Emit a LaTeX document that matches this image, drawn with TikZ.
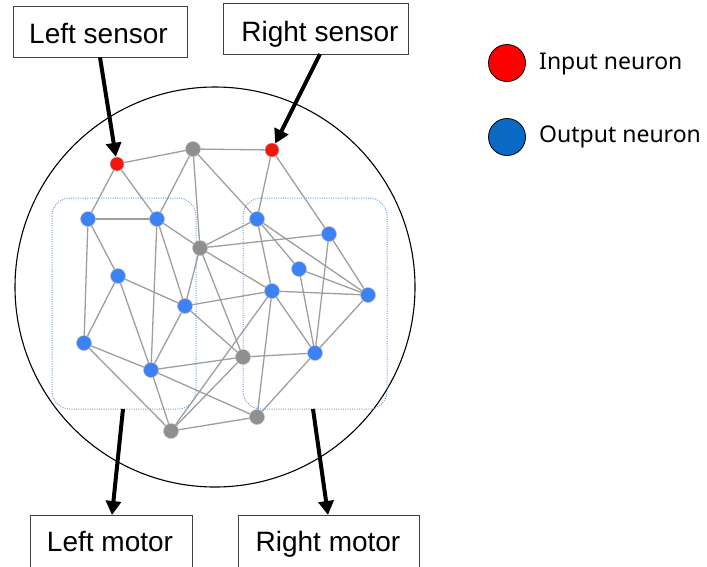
\documentclass[tikz,border=0pt]{standalone}
\usepackage{fontspec}
\setmainfont{Liberation Sans}
\newfontfamily\legendfont{Noto Sans}
\usetikzlibrary{arrows.meta,backgrounds,calc}
\definecolor{nblue}{HTML}{3D82F5}
\definecolor{ngray}{HTML}{8F8F8F}
\definecolor{nred}{HTML}{F2170C}
\definecolor{edgec}{HTML}{9E9E9E}
\definecolor{dotc}{HTML}{6F9BD6}
\definecolor{lblue}{HTML}{0A6AC6}
\definecolor{lred}{HTML}{FF0000}
\begin{document}
\begin{tikzpicture}[x=1pt,y=-1pt,
  neuron/.style={circle,inner sep=0pt,minimum size=15pt,draw=black!25,line width=0.5pt},
  inn/.style={neuron,fill=nred,minimum size=14pt},
  outn/.style={neuron,fill=nblue},
  hidn/.style={neuron,fill=ngray},
  edge/.style={draw=edgec,line width=1.3pt},
  frame/.style={draw=black!75,line width=0.9pt,inner sep=0pt},
  lbl/.style={font=\fontsize{28}{30}\selectfont,inner sep=0pt,text height=20pt,text depth=0pt},
  bigarrow/.style={line width=4pt,-{Triangle[width=15pt,length=14pt]}},
  region/.style={draw=dotc,dash pattern=on 1pt off 1.3pt,line width=1pt,rounded corners=18pt},
  leg/.style={circle,draw=black,line width=0.8pt,minimum size=37pt,inner sep=0pt},
  legtxt/.style={font=\legendfont\fontsize{23}{26}\selectfont,inner sep=0pt,anchor=base west}]

\useasboundingbox (0,0) rectangle (707,566);

% big circle
\draw[line width=1.1pt] (215,287) circle[radius=200pt];

% dotted regions
\draw[region] (52,198) rectangle (196,409);
\draw[region] (243,198) rectangle (387,409);

% neurons
\node[inn]  (L)   at (117,164) {};
\node[inn]  (R)   at (272,150) {};
\node[hidn] (G1)  at (193,149) {};
\node[hidn] (G2)  at (200,248) {};
\node[hidn] (G3)  at (243,357) {};
\node[hidn] (G4)  at (171,431) {};
\node[hidn] (G5)  at (257,417) {};
\node[outn] (B1)  at (88,219) {};
\node[outn] (B2)  at (157,219) {};
\node[outn] (B3)  at (118,276) {};
\node[outn] (B4)  at (185,306) {};
\node[outn] (B5)  at (84,343) {};
\node[outn] (B6)  at (151,370) {};
\node[outn] (B7)  at (257,219) {};
\node[outn] (B8)  at (329,234) {};
\node[outn] (B9)  at (299,269) {};
\node[outn] (B10) at (272,291) {};
\node[outn] (B11) at (368,295) {};
\node[outn] (B12) at (315,353) {};

\begin{pgfonlayer}{background}
\foreach \a/\b in {L/G1,L/B1,L/B2,G1/R,G1/B2,G1/G2,G1/B7,R/B7,R/B8,
  B1/B2,B1/B5,B1/B3,B2/B6,B2/B4,B2/G2,G2/B7,G2/B8,G2/B4,G2/B10,G2/G3,
  B7/B10,B7/B9,B7/B11,B8/B11,B8/B12,B9/B11,B9/B12,B10/B11,B10/B12,B10/G5,B10/G4,
  B11/B12,B12/G3,B12/G5,B3/B4,B3/B5,B3/B6,B4/B6,B4/B10,B4/G3,B5/B6,B5/G4,
  B6/G3,B6/G4,B6/G5,G4/G5,G3/G4}
  \draw[edge] (\a.center) -- (\b.center);
\end{pgfonlayer}

% boxes
\node[frame,minimum width=174pt,minimum height=51pt] (lsbox) at (100,31.5) {};
\node[lbl] (lstext) at (98.5,33) {Left sensor};
\node[frame,minimum width=185pt,minimum height=51pt] (rsbox) at (315.5,28.5) {};
\node[lbl] (rstext) at (320,31) {Right sensor};
\node[frame,minimum width=162pt,minimum height=60pt] (lmbox) at (111,545) {};
\node[lbl] (lmtext) at (110,541.5) {Left motor};
\node[frame,minimum width=181pt,minimum height=60pt] (rmbox) at (328.5,545) {};
\node[lbl] (rmtext) at (328,541.5) {Right motor};

% arrows
\coordinate (rsout) at (320,54);
\coordinate (lregout) at (123,409);
\coordinate (rregout) at (313,409);
\coordinate (lmin) at (112,515);
\coordinate (rmin) at (328,515);
\draw[bigarrow] (lsbox.south) -- (L);
\draw[bigarrow] (rsout) -- (R);
\draw[bigarrow] (lregout) -- (lmin);
\draw[bigarrow] (rregout) -- (rmin);

% legend
\node[leg,fill=lred] (legin) at (507,63) {};
\node[leg,fill=lblue] (legout) at (507,137) {};
\node[legtxt] (legintext) at (539,69.5) {Input neuron};
\node[legtxt] (legouttext) at (539,142) {Output neuron};
\end{tikzpicture}
\end{document}
